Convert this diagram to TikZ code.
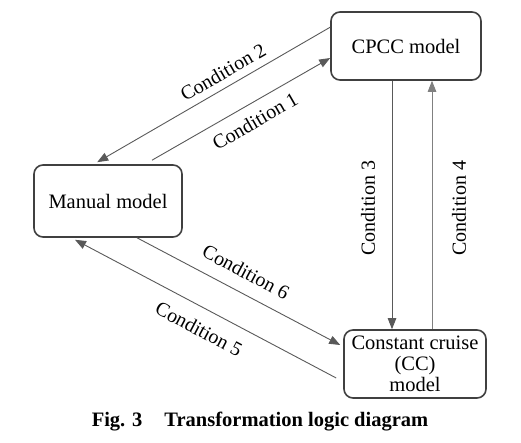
\documentclass[tikz,border=0pt]{standalone}
\usepackage{fontspec}
\setmainfont{Liberation Serif}
\usetikzlibrary{arrows.meta}
\begin{document}
\begin{tikzpicture}[x=1pt,y=-1pt,
  modelbox/.style={draw=black!75,line width=1.6pt,rounded corners=9pt,align=center,inner sep=0pt,font=\fontsize{20.5}{21}\selectfont},
  conn/.style={draw=black!65,line width=0.9pt,-{Triangle[length=11pt,width=8.5pt]}},
  cond/.style={font=\fontsize{20}{22}\selectfont,inner sep=0pt}]
\useasboundingbox (0,0) rectangle (521,443);
\node[modelbox,minimum width=150pt,minimum height=68pt] (cpcc) at (406,46) {CPCC model};
\node[modelbox,minimum width=148pt,minimum height=72pt] (manual) at (108,201) {Manual model};
\node[modelbox,minimum width=142pt,minimum height=68pt] (cc) at (415,364) {Constant cruise\\(CC)\\model};
% connectors
\draw[conn] ([yshift=-16pt]cpcc.north west) -- ([xshift=64pt,yshift=2pt]manual.north west);
\draw[conn] ([xshift=44pt,yshift=4pt]manual.north) -- ([yshift=-12pt]cpcc.west);
\draw[conn] ([xshift=-14pt]cpcc.south) -- ([xshift=-23pt]cc.north);
\draw[conn,draw=black!50] ([xshift=17pt]cc.north) -- ([xshift=26pt]cpcc.south);
\draw[conn] ([xshift=29pt]manual.south) -- ([xshift=-3pt,yshift=19pt]cc.west);
\draw[conn] ([xshift=-7pt,yshift=-14pt]cc.west) -- ([xshift=-33pt,yshift=-2pt]manual.south);
% labels
\node[cond,rotate=30] (l2) at (223,72) {Condition 2};
\node[cond,rotate=30] (l1) at (255,121) {Condition 1};
\node[cond,rotate=90] (l3) at (368,208) {Condition 3};
\node[cond,rotate=90] (l4) at (459,208) {Condition 4};
\node[cond,rotate=-28] (l6) at (246,272) {Condition 6};
\node[cond,rotate=-28] (l5) at (199,329) {Condition 5};
\node[font=\fontsize{20.5}{22}\selectfont\bfseries,inner sep=0pt] (cap) at (260,422) {Fig. 3\hspace{22pt}Transformation logic diagram};
\end{tikzpicture}
\end{document}
